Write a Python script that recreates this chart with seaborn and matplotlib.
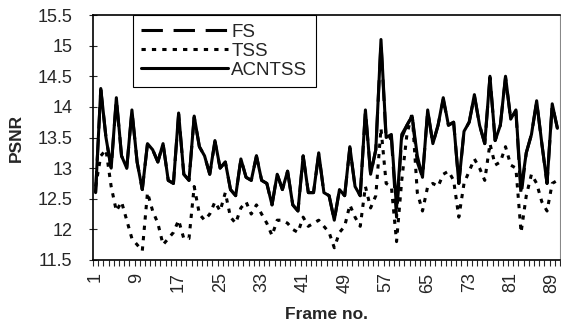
import numpy as np
import pandas as pd
import matplotlib
matplotlib.use('Agg')
import matplotlib.pyplot as plt
import seaborn as sns

# frame numbers 1..90
frames = list(range(1, 91))

acntss = [12.6, 14.3, 13.5, 13.0, 14.15, 13.2, 13.0, 13.95, 13.1, 12.65,
          13.4, 13.3, 13.1, 13.4, 12.8, 12.75, 13.9, 12.9, 12.8, 13.85,
          13.35, 13.2, 12.9, 13.45, 13.0, 13.1, 12.65, 12.55, 13.15, 12.85,
          12.8, 13.2, 12.8, 12.75, 12.4, 12.9, 12.65, 12.95, 12.4, 12.3,
          13.2, 12.6, 12.6, 13.25, 12.6, 12.55, 12.15, 12.65, 12.55, 13.35,
          12.7, 12.55, 13.95, 12.9, 13.3, 15.1, 13.5, 13.55, 12.35, 13.55,
          13.7, 13.85, 13.2, 12.85, 13.95, 13.4, 13.7, 14.15, 13.7, 13.75,
          12.75, 13.6, 13.75, 14.2, 13.7, 13.4, 14.5, 13.45, 13.7, 14.5,
          13.8, 13.95, 12.65, 13.25, 13.55, 14.1, 13.4, 12.75, 14.05, 13.65]

fs = [12.6, 14.28, 13.5, 13.0, 14.12, 13.2, 13.0, 13.93, 13.1, 12.65,
      13.4, 13.3, 13.1, 13.4, 12.8, 12.75, 13.88, 12.9, 12.8, 13.83,
      13.35, 13.2, 12.9, 13.43, 13.0, 13.1, 12.65, 12.55, 13.15, 12.85,
      12.8, 13.2, 12.8, 12.75, 12.4, 12.9, 12.65, 12.95, 12.4, 12.3,
      13.2, 12.6, 12.6, 13.23, 12.6, 12.55, 12.15, 12.65, 12.55, 13.33,
      12.7, 12.55, 13.93, 12.9, 13.3, 15.05, 13.45, 13.5, 12.2, 13.5,
      13.7, 13.85, 13.1, 12.85, 13.93, 13.4, 13.7, 14.12, 13.7, 13.75,
      12.75, 13.6, 13.75, 14.18, 13.7, 13.4, 14.48, 13.45, 13.7, 14.48,
      13.8, 13.93, 12.55, 13.25, 13.55, 14.08, 13.4, 12.75, 14.03, 13.65]

tss = [12.7, 13.2, 13.3, 12.7, 12.3, 12.45, 12.15, 11.85, 11.75, 11.65,
       12.6, 12.3, 12.1, 11.75, 11.85, 11.95, 12.15, 11.85, 11.85, 12.7,
       12.25, 12.15, 12.25, 12.45, 12.3, 12.6, 12.2, 12.1, 12.35, 12.45,
       12.25, 12.4, 12.25, 12.1, 11.9, 12.15, 12.15, 12.1, 12.0, 11.95,
       12.2, 12.05, 12.1, 12.15, 12.05, 11.95, 11.7, 11.95, 12.05, 12.4,
       12.2, 12.05, 12.7, 12.35, 12.55, 13.65, 12.75, 12.7, 11.8, 12.8,
       13.55, 13.9, 12.6, 12.3, 12.7, 12.75, 12.7, 12.9, 12.95, 12.8,
       12.2, 12.75, 12.95, 13.15, 13.0, 12.8, 13.4, 13.05, 13.1, 13.35,
       13.05, 13.0, 11.95, 12.55, 12.9, 12.75, 12.45, 12.3, 12.75, 12.8]

y_ticks = [11.5, 12, 12.5, 13, 13.5, 14, 14.5, 15, 15.5]
y_tick_labels = ['11.5', '12', '12.5', '13', '13.5', '14', '14.5', '15', '15.5']
x_label_frames = [1, 9, 17, 25, 33, 41, 49, 57, 65, 73, 81, 89]

df = pd.DataFrame({'frame': frames, 'FS': fs, 'TSS': tss, 'ACNTSS': acntss})

sns.set_style('white')
plt.rcParams['font.family'] = ['Liberation Sans', 'DejaVu Sans']

fig = plt.figure(figsize=(5.61, 3.28), dpi=100)
ax = fig.add_axes([93 / 561, 68 / 328, 467 / 561, 245 / 328])

sns.lineplot(data=df, x='frame', y='FS', ax=ax, color='black', lw=2.2,
             label='FS')
ax.lines[-1].set_dashes([7, 3.5])
sns.lineplot(data=df, x='frame', y='TSS', ax=ax, color='black', lw=2.2,
             label='TSS')
ax.lines[-1].set_dashes([1.4, 2.0])
sns.lineplot(data=df, x='frame', y='ACNTSS', ax=ax, color='black', lw=2.2,
             label='ACNTSS')

ax.set_xlim(0.5, 90.5)
ax.set_ylim(11.5, 15.5)
ax.set_yticks(y_ticks)
ax.set_yticklabels(y_tick_labels, fontsize=13)
ax.set_xticks(x_label_frames)
ax.set_xticklabels([str(f) for f in x_label_frames], rotation=90, fontsize=13)
ax.set_xticks(np.arange(0.5, 91, 1), minor=True)
ax.tick_params(axis='x', which='major', length=0, pad=9)
ax.tick_params(axis='x', which='minor', length=4, width=0.8, direction='out',
               bottom=True)
ax.tick_params(axis='y', which='major', length=6, width=0.8, direction='inout',
               left=True, pad=12)

ax.set_xlabel('Frame no.', fontsize=12.5, fontweight='bold', labelpad=10)
ax.set_ylabel('PSNR', fontsize=12.5, fontweight='bold', labelpad=10)

for side in ['left', 'bottom', 'top']:
    ax.spines[side].set_color('black')
    ax.spines[side].set_linewidth(1.2)
ax.spines['right'].set_color('#888888')
ax.spines['right'].set_linewidth(0.8)

leg = ax.legend(loc='upper left', bbox_to_anchor=(40 / 467, 1.0),
                borderaxespad=0, frameon=True, fancybox=False,
                edgecolor='black', framealpha=1, fontsize=13.5,
                handlelength=4.6, handletextpad=0.2, labelspacing=0.1,
                borderpad=0.45)
leg.get_frame().set_linewidth(0.8)

fig.savefig('out.png', dpi=100)
